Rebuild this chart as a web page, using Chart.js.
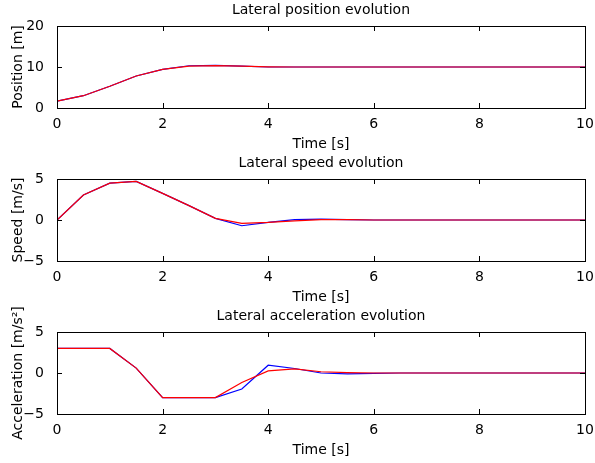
<!DOCTYPE html>
<html>
<head>
<meta charset="utf-8">
<script src="https://cdn.jsdelivr.net/npm/chart.js@4/dist/chart.umd.min.js"></script>
<style>
  body { margin: 0; background: #fff; }
  .panel { position: absolute; left: 0; width: 595px; height: 153px; }
</style>
</head>
<body>
<div class="panel" style="top:0px"><canvas id="posChart" width="595" height="153"></canvas></div>
<div class="panel" style="top:153px"><canvas id="speedChart" width="595" height="153"></canvas></div>
<div class="panel" style="top:306px"><canvas id="accChart" width="595" height="153"></canvas></div>
<script>
// time samples (s)
const time = [0, 0.5, 1, 1.5, 2, 2.5, 3, 3.5, 4, 4.5, 5, 5.5, 6, 6.5, 7, 7.5, 8, 8.5, 9, 9.5, 10];

// lateral position (m)
const posBlue = [1.65, 3.0, 5.3, 7.8, 9.4, 10.3, 10.4, 10.2, 10.0, 10.0, 10.0, 10.0, 10.0, 10.0, 10.0, 10.0, 10.0, 10.0, 10.0, 10.0, 10.0];
const posRed  = [1.65, 3.0, 5.3, 7.8, 9.4, 10.2, 10.35, 10.2, 10.05, 10.0, 10.0, 10.0, 10.0, 10.0, 10.0, 10.0, 10.0, 10.0, 10.0, 10.0, 10.0];

// lateral speed (m/s)
const speedBlue = [0, 3.05, 4.5, 4.7, 3.25, 1.75, 0.2, -0.7, -0.3, 0.05, 0.1, 0.05, 0, 0, 0, 0, 0, 0, 0, 0, 0];
const speedRed  = [0, 3.05, 4.5, 4.7, 3.25, 1.75, 0.2, -0.4, -0.3, -0.1, 0.05, 0.05, 0, 0, 0, 0, 0, 0, 0, 0, 0];

// lateral acceleration (m/s^2)
const accBlue = [3, 3, 3, 0.6, -3, -3, -3, -1.95, 0.95, 0.55, 0.0, -0.1, -0.05, 0, 0, 0, 0, 0, 0, 0, 0];
const accRed  = [3, 3, 3, 0.6, -3, -3, -3, -1.15, 0.25, 0.5, 0.15, 0.05, 0, 0, 0, 0, 0, 0, 0, 0, 0];

const xTicks = {min: 0, max: 10, step: 2};

Chart.defaults.font.family = '"DejaVu Sans", sans-serif';
Chart.defaults.font.size = 14;
Chart.defaults.color = '#000';

// box round the plot area with inward tick marks, like the original figure
const boxPlugin = {
    id: 'boxPlugin',
    afterDatasetsDraw(chart) {
        const {ctx, chartArea: a, scales: {x, y}} = chart;
        const len = 5;
        ctx.save();
        ctx.strokeStyle = '#000';
        ctx.lineWidth = 1;
        ctx.strokeRect(a.left + 0.5, a.top + 0.5, a.right - a.left, a.bottom - a.top);
        ctx.beginPath();
        x.ticks.forEach(t => {
            const px = Math.round(x.getPixelForValue(t.value)) + 0.5;
            ctx.moveTo(px, a.bottom); ctx.lineTo(px, a.bottom - len);
            ctx.moveTo(px, a.top); ctx.lineTo(px, a.top + len);
        });
        y.ticks.forEach(t => {
            const py = Math.round(y.getPixelForValue(t.value)) + 0.5;
            ctx.moveTo(a.left, py); ctx.lineTo(a.left + len, py);
            ctx.moveTo(a.right, py); ctx.lineTo(a.right - len, py);
        });
        ctx.stroke();
        ctx.restore();
    }
};

function toPoints(values) {
    return time.map((t, i) => ({x: t, y: values[i]}));
}

function makeChart(id, title, yLabel, blue, red, yMin, yMax, yStep) {
    const ctx = document.getElementById(id);
    return new Chart(ctx, {
        type: 'line',
        data: {
            datasets: [
                // red is listed first so that it is drawn on top of blue
                {data: toPoints(red), borderColor: '#ff0000', borderWidth: 1.2, pointRadius: 0, tension: 0, fill: false},
                {data: toPoints(blue), borderColor: '#0000ff', borderWidth: 1.2, pointRadius: 0, tension: 0, fill: false}
            ]
        },
        options: {
            responsive: false,
            animation: false,
            layout: {padding: {left: 0, right: 10, top: 0, bottom: 0}},
            scales: {
                x: {
                    type: 'linear',
                    min: xTicks.min,
                    max: xTicks.max,
                    grid: {display: false},
                    border: {display: false},
                    ticks: {stepSize: xTicks.step, padding: 0, maxRotation: 0},
                    title: {display: true, text: 'Time [s]', padding: {top: 0, bottom: 0.5}},
                    afterFit: scale => { scale.height = 45; }
                },
                y: {
                    min: yMin,
                    max: yMax,
                    grid: {display: false},
                    border: {display: false},
                    ticks: {
                        stepSize: yStep,
                        padding: 5,
                        callback: v => v < 0 ? '\u2212' + Math.abs(v) : String(v)
                    },
                    title: {display: true, text: yLabel, padding: {top: 10, bottom: 0}},
                    afterFit: scale => { scale.width = 57; }
                }
            },
            plugins: {
                legend: {display: false},
                tooltip: {enabled: false},
                title: {
                    display: true,
                    fullSize: false,
                    text: title,
                    font: {size: 14, weight: 'normal'},
                    padding: {top: 2, bottom: 7.2}
                }
            }
        },
        plugins: [boxPlugin]
    });
}

makeChart('posChart', 'Lateral position evolution', 'Position [m]', posBlue, posRed, 0, 20, 10);
makeChart('speedChart', 'Lateral speed evolution', 'Speed [m/s]', speedBlue, speedRed, -5, 5, 5);
makeChart('accChart', 'Lateral acceleration evolution', 'Acceleration [m/s\u00b2]', accBlue, accRed, -5, 5, 5);
</script>
</body>
</html>
